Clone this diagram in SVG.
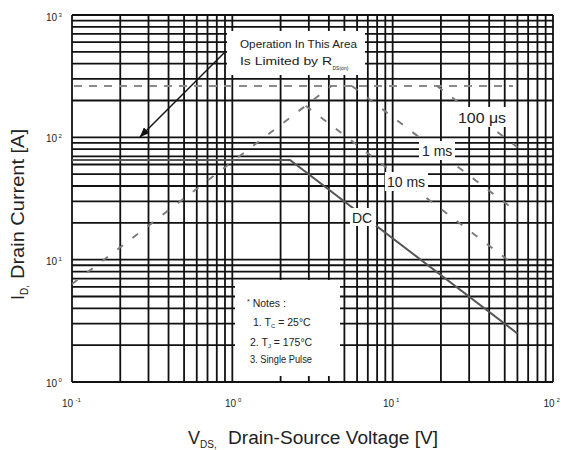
<svg xmlns="http://www.w3.org/2000/svg" width="561" height="450" viewBox="0 0 561 450">
<style>
text{font-family:"Liberation Sans",Arial,sans-serif;fill:#222}
.grid{fill:none;stroke:#111;stroke-width:1.8}
.dash{fill:none;stroke:#7a7a7a;stroke-width:1.9;stroke-dasharray:7 12}
.hdash{fill:none;stroke:#8a8a8a;stroke-width:2;stroke-dasharray:8 7}
.dc{fill:none;stroke:#555;stroke-width:2}
.bg{fill:#fff}
.tick{font-size:10px}
.sup{font-size:6px}
.lbl{font-size:14px}
.note{font-size:10.5px}
.ann{font-size:11.5px}
.title{font-size:18px}
</style>
<defs>
<marker id="ah" markerWidth="10" markerHeight="8" refX="9.5" refY="4" orient="auto" markerUnits="userSpaceOnUse">
<path d="M0,0 L10,4 L0,8 z" fill="#111"/>
</marker>
</defs>
<rect width="561" height="450" fill="#fff"/>
<g id="grid">
<path class="grid" d="M72,15V382M120.26,15V382M148.5,15V382M168.53,15V382M184.07,15V382M196.76,15V382M207.5,15V382M216.79,15V382M224.99,15V382M232.33,15V382M280.59,15V382M308.83,15V382M328.86,15V382M344.4,15V382M357.09,15V382M367.83,15V382M377.12,15V382M385.32,15V382M392.66,15V382M440.92,15V382M469.16,15V382M489.19,15V382M504.73,15V382M517.42,15V382M528.16,15V382M537.45,15V382M545.65,15V382M553,15V382"/>
<path class="grid" d="M72,15H553M72,20.61H553M72,26.87H553M72,33.96H553M72,42.15H553M72,51.83H553M72,63.69H553M72,78.97H553M72,100.51H553M72,137.34H553M72,142.94H553M72,149.2H553M72,156.29H553M72,164.48H553M72,174.16H553M72,186.02H553M72,201.3H553M72,222.84H553M72,259.67H553M72,265.27H553M72,271.53H553M72,278.62H553M72,286.81H553M72,296.49H553M72,308.35H553M72,323.63H553M72,345.17H553M72,382H553"/>
</g>
<g id="connectors">
<path class="hdash" d="M74,86H513"/>
<path class="dash" d="M72,284L331.5,86"/>
<path class="dash" d="M305.6,105.8L517.4,267.3"/>
<path class="dash" d="M352,86L517.4,212.3"/>
<path class="dash" d="M437,86L517.4,147.3"/>
<path class="dc" d="M72,160H290L517.4,333.5"/>
</g>
<g id="annotation">
<rect class="bg" x="227" y="31" width="138" height="44"/>
<text class="ann" x="240" y="48" textLength="117" lengthAdjust="spacingAndGlyphs">Operation In This Area</text>
<text class="ann" x="240" y="65" textLength="92" lengthAdjust="spacingAndGlyphs">Is Limited by R</text>
<text x="332.5" y="70" style="font-size:5px">DS(on)</text>
<path d="M224,53L140,137" fill="none" stroke="#111" stroke-width="1.5" marker-end="url(#ah)"/>
</g>
<g id="label-100us">
<rect class="bg" x="456" y="107" width="54" height="20"/>
<text class="lbl" x="458" y="122.5" textLength="48" lengthAdjust="spacingAndGlyphs">100 μs</text>
</g>
<g id="label-1ms">
<rect class="bg" x="419" y="141" width="36" height="19"/>
<text class="lbl" x="422" y="156">1 ms</text>
</g>
<g id="label-10ms">
<rect class="bg" x="385" y="172" width="43" height="19"/>
<text class="lbl" x="387" y="187">10 ms</text>
</g>
<g id="label-dc">
<rect class="bg" x="350" y="208" width="26" height="18"/>
<text class="lbl" x="352" y="223">DC</text>
</g>
<g id="notes">
<rect class="bg" x="235" y="280" width="105" height="96"/>
<text class="note" x="247" y="307"><tspan style="font-size:7px" dy="-3">*</tspan><tspan dy="3"> Notes :</tspan></text>
<text class="note" x="253" y="326">1. T<tspan style="font-size:6px" dy="2">C</tspan><tspan dy="-2"> = 25°C</tspan></text>
<text class="note" x="250" y="345.5">2. T<tspan style="font-size:6px" dy="2">J</tspan><tspan dy="-2"> = 175°C</tspan></text>
<text class="note" x="250" y="363" textLength="62" lengthAdjust="spacingAndGlyphs">3. Single Pulse</text>
</g>
<g id="y-ticks">
<text class="tick" x="57" y="20.5" text-anchor="end">10</text><text class="sup" x="58.5" y="16.5">3</text>
<text class="tick" x="57" y="141.7" text-anchor="end">10</text><text class="sup" x="58.5" y="137.5">2</text>
<text class="tick" x="57" y="265" text-anchor="end">10</text><text class="sup" x="58.5" y="260.5">1</text>
<text class="tick" x="57" y="386.5" text-anchor="end">10</text><text class="sup" x="58.5" y="382">0</text>
</g>
<g id="x-ticks">
<text class="tick" x="62" y="406.5">10</text><text class="sup" x="75.5" y="402">-1</text>
<text class="tick" x="225" y="406.5">10</text><text class="sup" x="238" y="401.5">0</text>
<text class="tick" x="383" y="406.5">10</text><text class="sup" x="396" y="401.5">1</text>
<text class="tick" x="543.5" y="406.5">10</text><text class="sup" x="556.5" y="401.5">2</text>
</g>
<g id="x-title">
<text class="title" x="188" y="444">V<tspan style="font-size:10px" dy="4">DS,</tspan></text>
<text class="title" x="228" y="444" textLength="210" lengthAdjust="spacingAndGlyphs">Drain-Source Voltage [V]</text>
</g>
<g id="y-title" transform="translate(24,300) rotate(-90)">
<text class="title" x="0" y="0">I<tspan style="font-size:10px" dy="4">D,</tspan></text>
<text class="title" x="21" y="0" textLength="150" lengthAdjust="spacingAndGlyphs">Drain Current [A]</text>
</g>
</svg>
